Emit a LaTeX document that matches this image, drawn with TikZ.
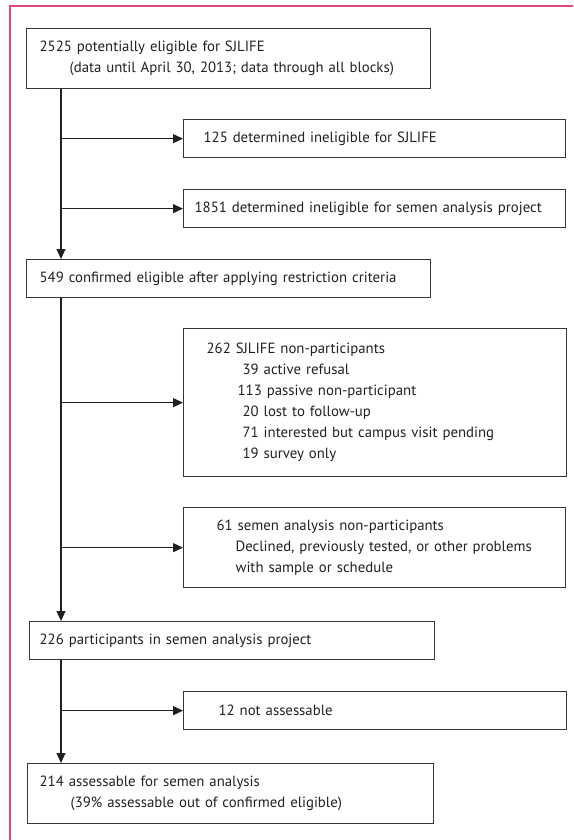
\documentclass[tikz,border=0pt]{standalone}
\usepackage{fontspec}
\setmainfont{PT Sans}
\usetikzlibrary{arrows.meta}
\definecolor{ink}{HTML}{231F20}
\definecolor{frame}{HTML}{E04A78}
\begin{document}
\begin{tikzpicture}[x=1pt,y=-1pt,
  bx/.style={draw=ink!90, line width=1.3pt, anchor=north west, align=left,
    inner ysep=0pt, font=\fontsize{14.8}{21}\selectfont, text=ink},
  arr/.style={draw=ink, line width=1.2pt, -{Triangle[length=10pt,width=9pt]}}]
\useasboundingbox (0,0) rectangle (573,840);
\draw[frame, line width=1.2pt] (10,840) -- (10,6) -- (573,6);
\coordinate (trunk) at (61,0);
% boxes: text width = W - 2*pad
\node[bx, inner xsep=13pt, text width=378pt, minimum height=60pt] (B1) at (26,28)
  {2525 potentially eligible for SJLIFE\\\hspace*{30pt}(data until April 30, 2013; data through all blocks)};
\node[bx, inner xsep=20pt, text width=342pt, minimum height=38pt] (B2) at (183,119)
  {125 determined ineligible for SJLIFE};
\node[bx, inner xsep=11pt, text width=360pt, minimum height=38pt] (B3) at (183,189)
  {1851 determined ineligible for semen analysis project};
\node[bx, inner xsep=13pt, text width=378pt, minimum height=38pt] (B4) at (26,259)
  {549 confirmed eligible after applying restriction criteria};
\node[bx, inner xsep=23pt, text width=337pt, minimum height=148pt] (B5) at (183,328)
  {262 SJLIFE non-participants\\
   \hspace*{36pt}39 active refusal\\
   \hspace*{31pt}113 passive non-participant\\
   \hspace*{36pt}20 lost to follow-up\\
   \hspace*{36pt}71 interested but campus visit pending\\
   \hspace*{36pt}19 survey only};
\node[bx, inner xsep=33pt, text width=316pt, minimum height=80pt] (B6) at (183,507)
  {61 semen analysis non-participants\\
   \hspace*{19pt}Declined, previously tested, or other problems\\
   \hspace*{19pt}with sample or schedule};
\node[bx, inner xsep=10pt, text width=385pt, minimum height=38pt] (B7) at (29,621)
  {226 participants in semen analysis project};
\node[bx, inner xsep=35pt, text width=313pt, minimum height=38pt] (B8) at (183,691)
  {12 not assessable};
\node[bx, inner xsep=12pt, text width=382pt, minimum height=60pt] (B9) at (27,763)
  {214 assessable for semen analysis\\\hspace*{31pt}(39\% assessable out of confirmed eligible)};
% connectors
\draw[arr] (B1.south -| trunk) -- (B4.north -| trunk);
\draw[arr] (B2.west -| trunk) -- (B2.west);
\draw[arr] (B3.west -| trunk) -- (B3.west);
\draw[arr] (B4.south -| trunk) -- (B7.north -| trunk);
\draw[arr] (B5.west -| trunk) -- (B5.west);
\draw[arr] (B6.west -| trunk) -- (B6.west);
\draw[arr] (B7.south -| trunk) -- (B9.north -| trunk);
\draw[arr] (B8.west -| trunk) -- (B8.west);
\end{tikzpicture}
\end{document}
